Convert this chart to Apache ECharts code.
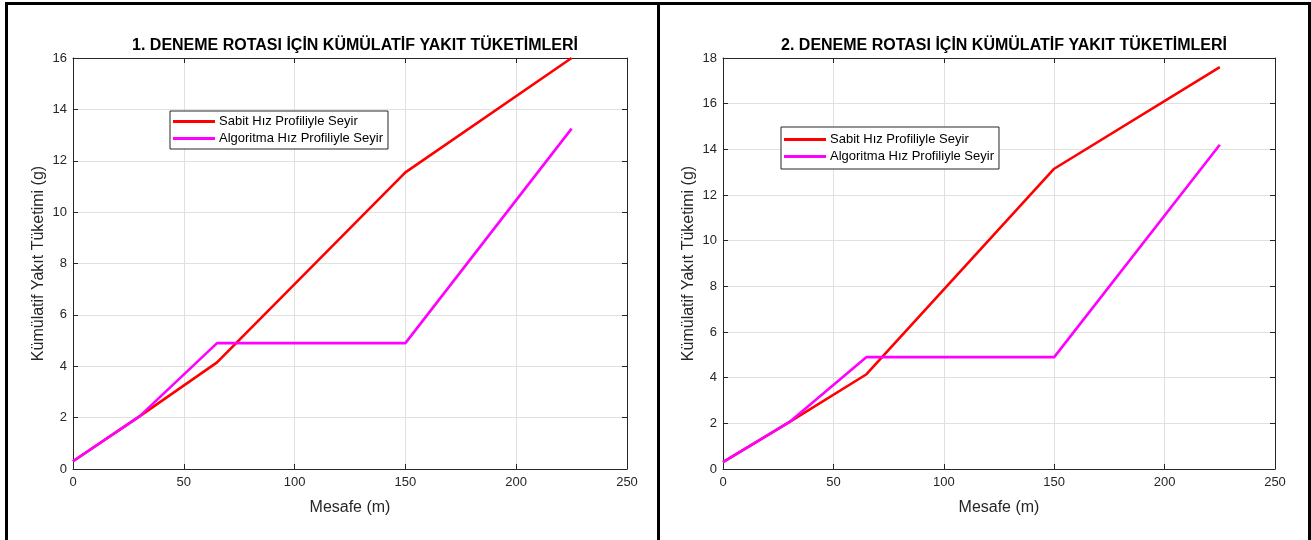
<!DOCTYPE html>
<html>
<head>
<meta charset="utf-8">
<script src="https://cdn.jsdelivr.net/npm/echarts@6/dist/echarts.min.js"></script>
<style>
html,body{margin:0;padding:0;background:#fff;}
#wrap{position:relative;width:1311px;height:540px;overflow:hidden;}
#chart{position:absolute;left:0;top:0;width:1311px;height:540px;}
.b{position:absolute;background:#000;}
</style>
</head>
<body>
<div id="wrap">
<div id="chart"></div>
<div class="b" style="left:5px;top:2px;width:1306px;height:3px;"></div>
<div class="b" style="left:5px;top:2px;width:3px;height:538px;"></div>
<div class="b" style="left:657px;top:2px;width:3px;height:538px;"></div>
<div class="b" style="left:1308px;top:2px;width:3px;height:538px;"></div>
</div>
<script>
const titles = ['1. DENEME ROTASI İÇİN KÜMÜLATİF YAKIT TÜKETİMLERİ', '2. DENEME ROTASI İÇİN KÜMÜLATİF YAKIT TÜKETİMLERİ'];
const seriesNames = ['Sabit Hız Profiliyle Seyir', 'Algoritma Hız Profiliyle Seyir'];
const xLabel = 'Mesafe (m)';
const yLabel = 'Kümülatif Yakıt Tüketimi (g)';
const distance = [0, 30, 65, 150, 225];
const route1Sabit = [0.3, 2.05, 4.15, 11.55, 16.0];
const route1Algoritma = [0.3, 2.05, 4.9, 4.9, 13.25];
const route2Sabit = [0.3, 2.05, 4.15, 13.15, 17.6];
const route2Algoritma = [0.3, 2.05, 4.9, 4.9, 14.2];
const yMax = [16, 18];
const colors = ['#ff0000', '#ff00ff'];

const font = 'Liberation Sans, Arial, Helvetica, sans-serif';
const axisColor = '#262626';
const gridColor = '#e0e0e0';

function pairs(xs, ys){ return xs.map((x,i)=>[x, ys[i]]); }

const grids = [
  {left:73, right:684, top:58, bottom:71},
  {left:723, right:36, top:58, bottom:71}
];

const xAxes = [], yAxes = [];
grids.forEach((g, gi) => {
  const common = {
    gridIndex: gi,
    axisLine:{show:true, onZero:false, lineStyle:{color:axisColor, width:1}},
    axisTick:{show:true, inside:true, length:5, lineStyle:{color:axisColor}},
  };
  xAxes.push(Object.assign({}, common, {
    type:'value', position:'bottom', min:0, max:250, interval:50,
    name:xLabel, nameLocation:'middle', nameGap:31,
    nameTextStyle:{fontFamily:font, fontSize:16, color:axisColor},
    axisLabel:{fontFamily:font, fontSize:13, color:axisColor, margin:7},
    splitLine:{show:true, lineStyle:{color:gridColor, width:1}}
  }));
  xAxes.push(Object.assign({}, common, {
    type:'value', position:'top', min:0, max:250, interval:50,
    axisLabel:{show:false}, splitLine:{show:false}
  }));
  yAxes.push(Object.assign({}, common, {
    type:'value', position:'left', min:0, max:yMax[gi], interval:2,
    name:yLabel, nameLocation:'middle', nameGap:26,
    nameTextStyle:{fontFamily:font, fontSize:16, color:axisColor},
    axisLabel:{fontFamily:font, fontSize:13, color:axisColor, margin:6},
    splitLine:{show:true, lineStyle:{color:gridColor, width:1}}
  }));
  yAxes.push(Object.assign({}, common, {
    type:'value', position:'right', min:0, max:yMax[gi], interval:2,
    axisLabel:{show:false}, splitLine:{show:false}
  }));
});

const data = [[route1Sabit, route1Algoritma],[route2Sabit, route2Algoritma]];
const series = [];
data.forEach((pair, gi) => {
  pair.forEach((ys, si) => {
    series.push({
      type:'line', name:seriesNames[si],
      xAxisIndex: gi*2, yAxisIndex: gi*2,
      data: pairs(distance, ys),
      showSymbol:false, symbol:'none',
      lineStyle:{color:colors[si], width:2.6},
      itemStyle:{color:colors[si]},
      animation:false, z: 2 + si
    });
  });
});

const legendCommon = {
  orient:'vertical', icon:'rect', itemWidth:42, itemHeight:3, itemGap:4,
  backgroundColor:'#fff', borderColor:'#262626', borderWidth:1, borderRadius:0,
  textStyle:{fontFamily:font, fontSize:13, color:'#000', padding:[0,0,0,-1]},
  data: seriesNames, selectedMode:false
};

const option = {
  backgroundColor:'#fff',
  animation:false,
  title: [
    {text:titles[0], left:350, textAlign:'center', top:33,
     textStyle:{fontFamily:font, fontSize:16, fontWeight:'bold', color:'#000'}},
    {text:titles[1], left:999, textAlign:'center', top:33,
     textStyle:{fontFamily:font, fontSize:16, fontWeight:'bold', color:'#000'}}
  ],
  grid: grids,
  xAxis: xAxes,
  yAxis: yAxes,
  legend: [
    Object.assign({}, legendCommon, {left:170, top:111, padding:[4,5,4,3]}),
    Object.assign({}, legendCommon, {left:781, top:127, padding:[6,5,6,3]})
  ],
  series: series
};

const chart = echarts.init(document.getElementById('chart'), null, {renderer:'canvas'});
chart.setOption(option);
</script>
</body>
</html>
